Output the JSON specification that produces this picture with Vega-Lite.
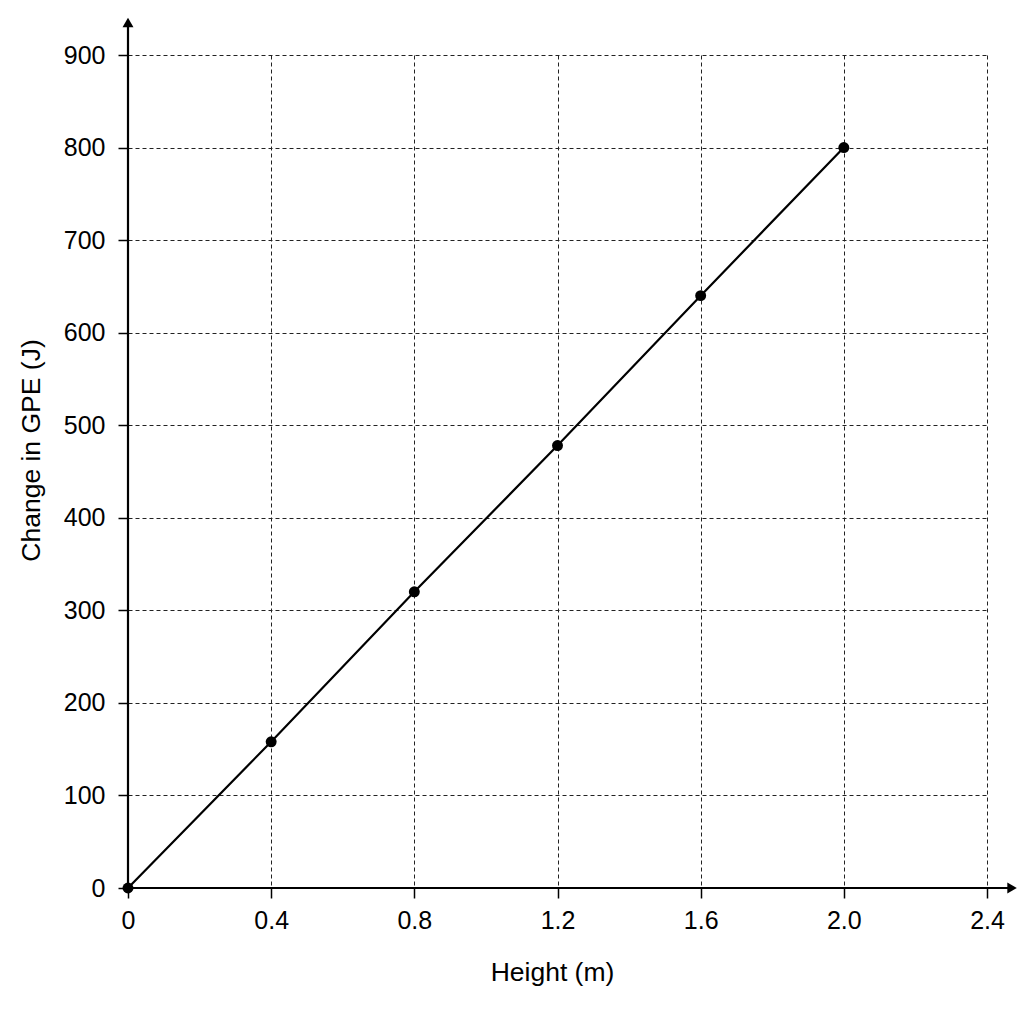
{
  "$schema": "https://vega.github.io/schema/vega-lite/v6.json",
  "width": 859,
  "height": 833,
  "autosize": {"type": "none"},
  "padding": {"left": 128, "top": 55, "right": 37, "bottom": 136},
  "background": "white",
  "config": {
    "view": {"stroke": null},
    "font": "Liberation Sans",
    "axis": {
      "labelFont": "Liberation Sans",
      "titleFont": "Liberation Sans",
      "labelFontSize": 25,
      "titleFontSize": 26.5,
      "labelColor": "black",
      "titleColor": "black",
      "titleFontWeight": "normal",
      "labelFlush": false,
      "domain": false,
      "tickColor": "black",
      "tickWidth": 1.5,
      "tickSize": 10,
      "grid": true,
      "gridColor": "#222222",
      "gridDash": [4, 3],
      "gridWidth": 1
    }
  },
  "layer": [
    {
      "data": {"values": [
        {"h": 0, "gpe": 0}, {"h": 0.4, "gpe": 158}, {"h": 0.8, "gpe": 320},
        {"h": 1.2, "gpe": 478}, {"h": 1.6, "gpe": 640}, {"h": 2.0, "gpe": 800}
      ]},
      "mark": {"type": "line", "color": "black", "strokeWidth": 2.2},
      "encoding": {
        "x": {"field": "h", "type": "quantitative",
          "scale": {"domain": [0, 2.4], "nice": false},
          "axis": {"values": [0, 0.4, 0.8, 1.2, 1.6, 2.0, 2.4], "title": "Height (m)",
            "labelExpr": "datum.value == 0 ? '0' : format(datum.value, '.1f')",
            "labelPadding": 10, "titlePadding": 26, "titleX": 424}},
        "y": {"field": "gpe", "type": "quantitative",
          "scale": {"domain": [0, 900], "nice": false},
          "axis": {"values": [0, 100, 200, 300, 400, 500, 600, 700, 800, 900], "title": "Change in GPE (J)",
            "labelPadding": 13, "titlePadding": 18, "titleY": 395}}
      }
    },
    {
      "data": {"values": [
        {"h": 0, "gpe": 0}, {"h": 0.4, "gpe": 158}, {"h": 0.8, "gpe": 320},
        {"h": 1.2, "gpe": 478}, {"h": 1.6, "gpe": 640}, {"h": 2.0, "gpe": 800}
      ]},
      "mark": {"type": "point", "filled": true, "color": "black", "size": 120, "opacity": 1, "clip": false},
      "encoding": {
        "x": {"field": "h", "type": "quantitative"},
        "y": {"field": "gpe", "type": "quantitative"}
      }
    },
    {
      "data": {"values": [{"x1": 0, "x2": 2.47, "y1": 0, "y2": 0}, {"x1": 0, "x2": 0, "y1": 0, "y2": 935}]},
      "mark": {"type": "rule", "color": "black", "strokeWidth": 2.2, "clip": false},
      "encoding": {
        "x": {"field": "x1", "type": "quantitative"},
        "x2": {"field": "x2"},
        "y": {"field": "y1", "type": "quantitative"},
        "y2": {"field": "y2"}
      }
    },
    {
      "data": {"values": [{"x": 2.47, "y": 0}]},
      "mark": {"type": "point", "filled": true, "color": "black", "size": 120, "opacity": 1, "clip": false, "shape": "triangle-right"},
      "encoding": {
        "x": {"field": "x", "type": "quantitative"},
        "y": {"field": "y", "type": "quantitative"}
      }
    },
    {
      "data": {"values": [{"x": 0, "y": 935}]},
      "mark": {"type": "point", "filled": true, "color": "black", "size": 120, "opacity": 1, "clip": false, "shape": "triangle-up"},
      "encoding": {
        "x": {"field": "x", "type": "quantitative"},
        "y": {"field": "y", "type": "quantitative"}
      }
    }
  ]
}
